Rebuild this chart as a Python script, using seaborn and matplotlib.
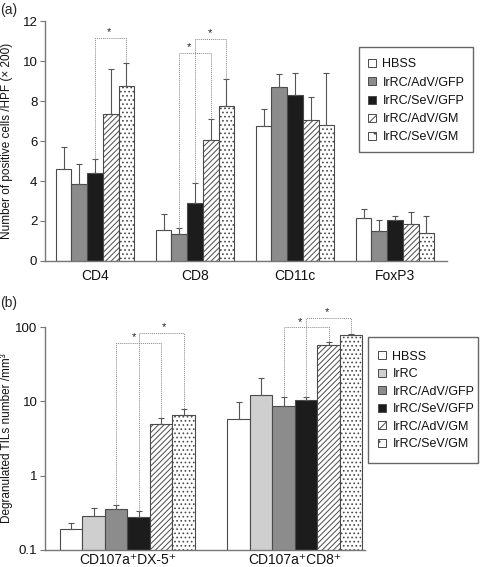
import numpy as np
import pandas as pd
import seaborn as sns
import matplotlib
matplotlib.use("Agg")
import matplotlib.pyplot as plt
from matplotlib.patches import Patch, Rectangle
from matplotlib.ticker import FixedLocator, NullLocator

# ---------------- data: panel (a) ----------------
markers_a = ["CD4", "CD8", "CD11c", "FoxP3"]
groups_a = ["HBSS", "IrRC/AdV/GFP", "IrRC/SeV/GFP", "IrRC/AdV/GM", "IrRC/SeV/GM"]
hbss_a = [4.58, 1.55, 6.74, 2.13]
adv_gfp_a = [3.83, 1.35, 8.70, 1.50]
sev_gfp_a = [4.38, 2.88, 8.32, 2.03]
adv_gm_a = [7.37, 6.03, 7.07, 1.83]
sev_gm_a = [8.77, 7.74, 6.81, 1.41]
hbss_a_up = [5.71, 2.35, 7.62, 2.58]
adv_gfp_a_up = [4.84, 1.63, 9.34, 2.05]
sev_gfp_a_up = [5.09, 3.88, 9.42, 2.26]
adv_gm_a_up = [9.62, 7.09, 8.22, 2.43]
sev_gm_a_up = [9.90, 9.12, 9.42, 2.25]
yticks_a = [0, 2, 4, 6, 8, 10, 12]
# significance brackets: (marker index, left group, right group, height, star position)
brackets_a = [
    (0, "IrRC/SeV/GFP", "IrRC/SeV/GM", 11.17, 0.45),
    (1, "IrRC/AdV/GFP", "IrRC/AdV/GM", 10.42, 0.31),
    (1, "IrRC/SeV/GFP", "IrRC/SeV/GM", 11.12, 0.47),
]

# ---------------- data: panel (b) ----------------
markers_b = ["CD107a\u207aDX-5\u207a", "CD107a\u207aCD8\u207a"]
groups_b = ["HBSS", "IrRC", "IrRC/AdV/GFP", "IrRC/SeV/GFP", "IrRC/AdV/GM", "IrRC/SeV/GM"]
hbss_b = [0.19, 5.75]
irrc_b = [0.287, 12.2]
adv_gfp_b = [0.353, 8.61]
sev_gfp_b = [0.281, 10.3]
adv_gm_b = [4.93, 57.8]
sev_gm_b = [6.52, 77.1]
hbss_b_up = [0.233, 9.66]
irrc_b_up = [0.364, 20.5]
adv_gfp_b_up = [0.404, 11.4]
sev_gfp_b_up = [0.339, 11.4]
adv_gm_b_up = [5.94, 62.7]
sev_gm_b_up = [7.85, 80.3]
yticks_b = [0.1, 1, 10, 100]
ytick_labels_b = ["0.1", "1", "10", "100"]
brackets_b = [
    (0, "IrRC/AdV/GFP", "IrRC/AdV/GM", 60.8, 0.39),
    (0, "IrRC/SeV/GFP", "IrRC/SeV/GM", 83.0, 0.55),
    (1, "IrRC/AdV/GFP", "IrRC/AdV/GM", 99.0, 0.35),
    (1, "IrRC/SeV/GFP", "IrRC/SeV/GM", 132.0, 0.47),
]

# ---------------- styles ----------------
EDGE = "#4a4a4a"
SPINE = "#777777"
fills = {"HBSS": "#ffffff", "IrRC": "#cfcfcf", "IrRC/AdV/GFP": "#8c8c8c",
         "IrRC/SeV/GFP": "#1c1c1c", "IrRC/AdV/GM": "#ffffff", "IrRC/SeV/GM": "#ffffff"}
hatches = {"IrRC/AdV/GM": "//////", "IrRC/SeV/GM": "...."}
legend_hatches = {"IrRC/AdV/GM": "////", "IrRC/SeV/GM": ".."}

sns.set_theme(style="white")
plt.rcParams["font.family"] = ["Liberation Sans", "DejaVu Sans"]
plt.rcParams["hatch.linewidth"] = 0.7
plt.rcParams["hatch.color"] = "#222222"

W, H = 480, 567
fig = plt.figure(figsize=(W / 100, H / 100), dpi=100)


def px_axes(left, top, right, bottom):
    return fig.add_axes([left / W, 1 - bottom / H, (right - left) / W, (bottom - top) / H])


def draw_panel(ax, markers, groups, values, uppers, width):
    df = pd.DataFrame({
        "marker": np.tile(markers, len(groups)),
        "group": np.repeat(groups, len(markers)),
        "value": np.concatenate(values),
    })
    sns.barplot(data=df, x="marker", y="value", hue="group", order=markers,
                hue_order=groups, palette=fills, width=width, edgecolor=EDGE,
                linewidth=0.8, errorbar=None, legend=False, saturation=1, ax=ax)
    centers = {}
    for g, cont, ups, vals in zip(groups, ax.containers, uppers, values):
        xs = []
        for p, up, v in zip(cont.patches, ups, vals):
            if g in hatches:
                p.set_hatch(hatches[g])
                p.set_edgecolor(EDGE)
            xc = p.get_x() + p.get_width() / 2
            xs.append(xc)
            ax.errorbar([xc], [v], yerr=[[0], [up - v]], fmt="none",
                        ecolor="#555555", elinewidth=0.8, capsize=2.2,
                        capthick=0.8, zorder=1)
        centers[g] = xs
    return centers


def draw_brackets(ax, brackets, centers, upper_map):
    for mi, gl, gr, h, sf in brackets:
        xl, xr = centers[gl][mi], centers[gr][mi]
        yl, yr = upper_map[gl][mi], upper_map[gr][mi]
        ax.plot([xl, xl, xr, xr], [yl, h, h, yr], ls=(0, (1, 1)), lw=0.7,
                color="#888888", clip_on=False, zorder=3)
        ax.annotate("*", (xl + sf * (xr - xl), h), xytext=(0, 0.5),
                    textcoords="offset points", ha="center", va="bottom",
                    fontsize=8, color="#222222", annotation_clip=False)


def style_axes(ax, xpad):
    for s in ["top", "right"]:
        ax.spines[s].set_visible(False)
    for s in ["left", "bottom"]:
        ax.spines[s].set_color(SPINE)
        ax.spines[s].set_linewidth(1.0)
    ax.set_xlabel("")
    ax.tick_params(axis="x", which="major", length=0, pad=xpad, labelsize=10,
                   labelcolor="#111111")
    ax.tick_params(axis="x", which="minor", direction="in", length=3.5,
                   color=SPINE, width=0.8)
    ax.tick_params(axis="y", which="major", direction="out", length=3.5,
                   color=SPINE, width=0.8, labelsize=9.5, pad=2,
                   labelcolor="#111111", left=True)
    ax.tick_params(axis="y", which="minor", length=0)


def make_legend(groups, box_px, handle_x, center_y, spacing):
    handles = [Patch(facecolor=fills[g], edgecolor=EDGE, linewidth=0.7,
                     hatch=legend_hatches.get(g)) for g in groups]
    leg = fig.legend(handles, groups, loc="center left",
                     bbox_to_anchor=(handle_x / W, 1 - center_y / H),
                     bbox_transform=fig.transFigure, frameon=False,
                     fontsize=9, handlelength=0.6, handleheight=0.6,
                     handletextpad=0.55, labelspacing=spacing, borderpad=0,
                     borderaxespad=0)
    for t in leg.get_texts():
        t.set_color("#111111")
    l, t, r, b = box_px
    fig.patches.append(Rectangle((l / W, 1 - b / H), (r - l) / W, (b - t) / H,
                                 transform=fig.transFigure, fill=False,
                                 edgecolor="#666666", linewidth=1.0))
    return leg


# ---------------- panel (a) ----------------
ax1 = px_axes(45, 21, 447, 261)
vals_a = [hbss_a, adv_gfp_a, sev_gfp_a, adv_gm_a, sev_gm_a]
ups_a = [hbss_a_up, adv_gfp_a_up, sev_gfp_a_up, adv_gm_a_up, sev_gm_a_up]
cent_a = draw_panel(ax1, markers_a, groups_a, vals_a, ups_a, 0.785)
draw_brackets(ax1, brackets_a, cent_a, dict(zip(groups_a, ups_a)))
ax1.set_xlim(-0.5, 3.52)
ax1.set_ylim(0, 12)
ax1.set_yticks(yticks_a)
style_axes(ax1, 6)
ax1.xaxis.set_minor_locator(FixedLocator([0.5, 1.5, 2.5, 3.5]))
ax1.set_ylabel("Number of positive cells /HPF (\u00d7 200)", fontsize=8.5,
               color="#111111")
ax1.yaxis.set_label_coords(-0.08, 0.5)
fig.text(0.0, 1 - 10 / H, "(a)", fontsize=10, va="center", ha="left")
make_legend(groups_a, (359, 47, 472.5, 152), 368, 101, 0.5)

# ---------------- panel (b) ----------------
ax2 = px_axes(45, 327, 365, 550)
vals_b = [hbss_b, irrc_b, adv_gfp_b, sev_gfp_b, adv_gm_b, sev_gm_b]
ups_b = [hbss_b_up, irrc_b_up, adv_gfp_b_up, sev_gfp_b_up, adv_gm_b_up, sev_gm_b_up]
cent_b = draw_panel(ax2, markers_b, groups_b, vals_b, ups_b, 0.806)
ax2.set_yscale("log")
draw_brackets(ax2, brackets_b, cent_b, dict(zip(groups_b, ups_b)))
ax2.set_xlim(-0.4925, 1.418)
ax2.set_ylim(0.1, 100)
ax2.yaxis.set_major_locator(FixedLocator(yticks_b))
ax2.set_yticklabels(ytick_labels_b)
ax2.yaxis.set_minor_locator(NullLocator())
style_axes(ax2, 2)
ax2.xaxis.set_minor_locator(FixedLocator([0.5, 1.418]))
ax2.set_ylabel("Degranulated TILs number /mm\u00b3", fontsize=8.5,
               color="#111111")
ax2.yaxis.set_label_coords(-0.1, 0.5)
fig.text(0.0, 1 - 303 / H, "(b)", fontsize=10, va="center", ha="left")
make_legend(groups_b, (367.5, 337, 478, 463), 378, 400.3, 0.44)

fig.savefig("out.png", dpi=100)
